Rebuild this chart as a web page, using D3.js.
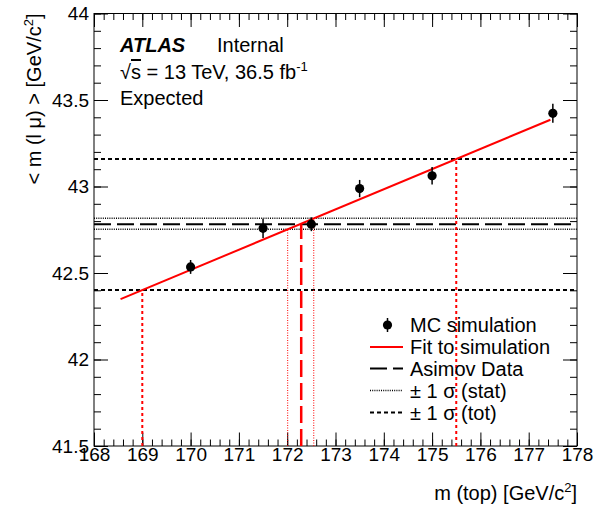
<!DOCTYPE html>
<html>
<head>
<meta charset="utf-8">
<script src="https://cdn.jsdelivr.net/npm/d3@7"></script>
<style>
  body { margin: 0; background: #fff; }
  text { font-family: "Liberation Sans", Arial, Helvetica, sans-serif; }
</style>
</head>
<body>
<div id="svgRoot"></div>
<script>
// MC points: top mass vs mean m(l mu)
const masses = [170, 171.5, 172.5, 173.5, 175, 177.5];
const means = [42.535, 42.758, 42.782, 42.988, 43.062, 43.423];
const errs = [0.04, 0.055, 0.04, 0.05, 0.05, 0.055];

// linear fit, drawn between its two end points
const fitX = [168.55, 177.45];
const fitY = [42.349, 43.386];

// Asimov result and its +-1 sigma bands (y value, crossing mass)
const asimovY = [42.782];
const asimovX = [172.29];
const statY = [42.753, 42.816];
const statX = [172.01, 172.55];
const totY = [42.402, 43.159];
const totX = [169.0, 175.5];

const legendLabels = ["MC simulation", "Fit to simulation", "Asimov Data", "\u00b1 1 \u03c3 (stat)", "\u00b1 1 \u03c3 (tot)"];

const W = 597, H = 506;
const margin = { top: 13.5, right: 20, bottom: 60, left: 94 };
const width = W - margin.left - margin.right,
  height = H - margin.top - margin.bottom;

const svg = d3.select("#svgRoot").append("svg")
  .attr("width", W).attr("height", H);
const g = svg.append("g")
  .attr("transform", "translate(" + margin.left + "," + margin.top + ")");

const x = d3.scaleLinear().domain([168, 178]).range([0, width]);
const y = d3.scaleLinear().domain([41.5, 44]).range([height, 0]);

const xMajor = d3.range(168, 178.01, 1);
const xMinor = d3.range(168, 178.01, 0.2);
const yMajor = d3.range(41.5, 44.01, 0.5);
const yMinor = d3.range(41.5, 44.01, 0.1);

function axisStyle(sel) {
  sel.select(".domain").remove();
  sel.selectAll("line").attr("stroke", "#000").attr("stroke-width", 1);
  sel.selectAll("text").attr("fill", "#000").style("font-size", "19px")
    .style("font-family", "'Liberation Sans', Arial, sans-serif");
}

// bottom axis
g.append("g").attr("transform", "translate(0," + height + ")")
  .call(d3.axisBottom(x).tickValues(xMinor).tickSize(-6.5).tickFormat(""))
  .call(axisStyle);
g.append("g").attr("transform", "translate(0," + height + ")")
  .call(d3.axisBottom(x).tickValues(xMajor).tickSize(-13.5).tickPadding(1).tickFormat(d3.format("d")))
  .call(axisStyle);
// top axis
g.append("g")
  .call(d3.axisTop(x).tickValues(xMinor).tickSize(-6.5).tickFormat(""))
  .call(axisStyle);
g.append("g")
  .call(d3.axisTop(x).tickValues(xMajor).tickSize(-13.5).tickFormat(""))
  .call(axisStyle);
// left axis
g.append("g")
  .call(d3.axisLeft(y).tickValues(yMinor).tickSize(-7).tickFormat(""))
  .call(axisStyle);
g.append("g")
  .call(d3.axisLeft(y).tickValues(yMajor).tickSize(-14).tickPadding(5)
    .tickFormat(d => d3.format("")(+d.toFixed(1))))
  .call(axisStyle);
// right axis
g.append("g").attr("transform", "translate(" + width + ",0)")
  .call(d3.axisRight(y).tickValues(yMinor).tickSize(-7).tickFormat(""))
  .call(axisStyle);
g.append("g").attr("transform", "translate(" + width + ",0)")
  .call(d3.axisRight(y).tickValues(yMajor).tickSize(-14).tickFormat(""))
  .call(axisStyle);

// frame
g.append("rect").attr("width", width).attr("height", height)
  .attr("fill", "none").attr("stroke", "#000").attr("stroke-width", 1);

// horizontal reference lines across the full frame
function hline(v, dash, sw) {
  g.append("line")
    .attr("x1", x(168)).attr("x2", x(178))
    .attr("y1", y(v)).attr("y2", y(v))
    .attr("stroke", "#000").attr("stroke-width", sw)
    .attr("stroke-dasharray", dash);
}
totY.forEach(v => hline(v, "4,3", 2));
statY.forEach(v => hline(v, "1,1.2", 1.5));
asimovY.forEach(v => hline(v, "17,6", 2));

// fit line
g.append("path")
  .datum(fitX.map((d, i) => [d, fitY[i]]))
  .attr("d", d3.line().x(d => x(d[0])).y(d => y(d[1])))
  .attr("stroke", "#ff0000").attr("stroke-width", 2).attr("fill", "none");

// vertical red lines from the bottom up to the fit
function vline(xv, yv, dash, sw) {
  g.append("line")
    .attr("x1", x(xv)).attr("x2", x(xv))
    .attr("y1", y(41.5)).attr("y2", y(yv))
    .attr("stroke", "#ff0000").attr("stroke-width", sw)
    .attr("stroke-dasharray", dash);
}
totX.forEach((d, i) => vline(d, totY[i], "3,3", 2));
statX.forEach((d, i) => vline(d, statY[i], "1,1.5", 1));
asimovX.forEach((d, i) => vline(d, asimovY[i], "17,6", 2.5));

// MC points with error bars
const pts = g.append("g");
masses.forEach((m, i) => {
  pts.append("line")
    .attr("x1", x(m)).attr("x2", x(m))
    .attr("y1", y(means[i] - errs[i])).attr("y2", y(means[i] + errs[i]))
    .attr("stroke", "#000").attr("stroke-width", 1.5);
  pts.append("circle")
    .attr("cx", x(m)).attr("cy", y(means[i])).attr("r", 4.6).attr("fill", "#000");
});

// ATLAS label
const lab = svg.append("g").style("font-size", "20px");
lab.append("text").attr("x", 120).attr("y", 52)
  .style("font-weight", "bold").style("font-style", "italic").text("ATLAS");
lab.append("text").attr("x", 217).attr("y", 52).text("Internal");
const t2 = lab.append("text").attr("x", 120).attr("y", 79);
t2.append("tspan").text("\u221a");
t2.append("tspan").style("text-decoration", "overline").text("s");
t2.append("tspan").text(" = 13 TeV, 36.5 fb");
t2.append("tspan").attr("dy", -8).style("font-size", "13px").text("-1");
lab.append("text").attr("x", 120).attr("y", 105).text("Expected");

// legend
const lg = svg.append("g");
const rowY = [325, 347, 368.5, 390.5, 412.5];
legendLabels.forEach((t, i) => {
  lg.append("text").attr("x", 410).attr("y", rowY[i] + 7)
    .style("font-size", "20px").text(t);
});
lg.append("line").attr("x1", 387.5).attr("x2", 387.5)
  .attr("y1", rowY[0] - 7).attr("y2", rowY[0] + 7)
  .attr("stroke", "#000").attr("stroke-width", 1.5);
lg.append("circle").attr("cx", 387.5).attr("cy", rowY[0]).attr("r", 4.6);
const legStyles = [null, ["#ff0000", null, 2], ["#000", "17,6", 2], ["#000", "1,1.2", 1.5], ["#000", "4,3", 2]];
legStyles.forEach((s, i) => {
  if (!s) return;
  lg.append("line").attr("x1", 370).attr("x2", 403)
    .attr("y1", rowY[i]).attr("y2", rowY[i])
    .attr("stroke", s[0]).attr("stroke-width", s[2])
    .attr("stroke-dasharray", s[1]);
});

// axis titles
const xt = svg.append("text").attr("x", margin.left + width).attr("y", 500)
  .attr("text-anchor", "end").style("font-size", "20px");
xt.append("tspan").text("m (top) [GeV/c");
xt.append("tspan").attr("dy", -8).style("font-size", "13px").text("2");
xt.append("tspan").attr("dy", 8).text("]");

const yt = svg.append("text")
  .attr("transform", "translate(41," + margin.top + ") rotate(-90)")
  .attr("text-anchor", "end").style("font-size", "20px");
yt.append("tspan").text("< m (l \u03bc) > [GeV/c");
yt.append("tspan").attr("dy", -8).style("font-size", "13px").text("2");
yt.append("tspan").attr("dy", 8).text("]");
</script>
</body>
</html>
